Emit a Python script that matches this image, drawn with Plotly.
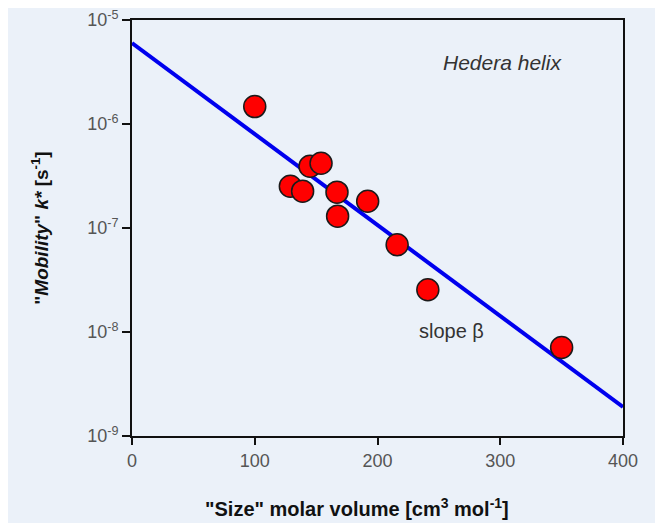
import plotly.graph_objects as go

# Data
molar_volume = [100, 129, 139, 145, 154, 167, 167.5, 192, 216, 241, 350]
mobility = [1.47e-6, 2.52e-7, 2.26e-7, 3.92e-7, 4.19e-7, 2.21e-7, 1.30e-7,
            1.81e-7, 6.9e-8, 2.55e-8, 7.1e-9]
fit_x = [0, 400]
fit_y = [6.0e-6, 1.9e-9]

y_tickvals = [1e-9, 1e-8, 1e-7, 1e-6, 1e-5]
y_ticktext = ["10<sup>-9</sup>", "10<sup>-8</sup>", "10<sup>-7</sup>",
              "10<sup>-6</sup>", "10<sup>-5</sup>"]
x_tickvals = [0, 100, 200, 300, 400]

bg = "#ebf1f9"
font_family = "Liberation Sans, Arial, sans-serif"

fig = go.Figure()
fig.add_trace(go.Scatter(x=fit_x, y=fit_y, mode="lines",
                         line=dict(color="#0000ee", width=4),
                         hoverinfo="skip", showlegend=False))
fig.add_trace(go.Scatter(x=molar_volume, y=mobility, mode="markers",
                         marker=dict(size=22, color="#ff0000",
                                     line=dict(color="#1a1a1a", width=1.5)),
                         showlegend=False))

fig.add_annotation(x=0, y=fit_y[0], xref="x", yref="y",
                   ax=42, ay=0, axref="pixel", ayref="pixel",
                   showarrow=True, arrowhead=2, arrowsize=1, arrowwidth=1.5,
                   arrowcolor="#222222", text="")
fig.add_annotation(x=0, y=fit_y[0], xref="x", yref="y",
                   xshift=42, yshift=-1, xanchor="left", yanchor="middle",
                   showarrow=False, text="<i>k*°</i>",
                   font=dict(family=font_family, size=18, color="#333333"))
fig.add_annotation(xref="paper", yref="paper", x=0.7556, y=0.899,
                   xanchor="center", yanchor="middle",
                   showarrow=False, text="<i>Hedera helix</i>",
                   font=dict(family=font_family, size=21, color="#333333"))
fig.add_annotation(xref="paper", yref="paper", x=0.65, y=0.252,
                   xanchor="center", yanchor="middle",
                   showarrow=False, text="slope β",
                   font=dict(family=font_family, size=20, color="#333333"))
# x-axis title (placed as annotation to match its off-centre position)
fig.add_annotation(xref="paper", yref="paper", x=0.458, y=-0.171,
                   xanchor="center", yanchor="middle", showarrow=False,
                   text='<b>"Size" molar volume [cm<sup>3</sup> mol<sup>-1</sup>]</b>',
                   font=dict(family=font_family, size=20, color="#111111"))

fig.update_layout(
    width=663, height=523,
    paper_bgcolor=bg, plot_bgcolor=bg,
    margin=dict(l=124, r=48, t=12, b=95),
    font=dict(family=font_family, color="#555555", size=17),
    xaxis=dict(range=[0, 400], tickvals=x_tickvals, automargin=False,
               ticklabeloverflow="allow",
               showgrid=False, zeroline=False,
               showline=True, linecolor="#111111", linewidth=2, mirror=True,
               ticks="outside", ticklen=7, tickwidth=2, tickcolor="#111111",
               tickfont=dict(size=18, color="#555555")),
    yaxis=dict(type="log", range=[-9, -5], tickvals=y_tickvals, ticktext=y_ticktext,
               automargin=False, ticklabeloverflow="allow",
               showgrid=False, zeroline=False,
               showline=True, linecolor="#111111", linewidth=2, mirror=True,
               ticks="outside", ticklen=8, tickwidth=2, tickcolor="#111111",
               tickfont=dict(size=18, color="#555555"),
               title=dict(text='<b>"<i>Mobility</i>" <i>k*</i> [s<sup>-1</sup>]</b>',
                          font=dict(size=19, color="#111111"), standoff=34)),
)

fig.write_html("out.html")
